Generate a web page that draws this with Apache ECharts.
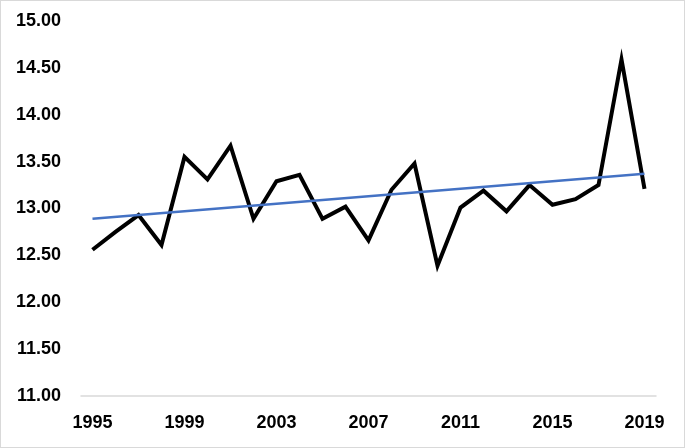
<!DOCTYPE html>
<html>
<head>
<meta charset="utf-8">
<script src="https://cdn.jsdelivr.net/npm/echarts@6/dist/echarts.min.js"></script>
<style>
  html, body { margin: 0; padding: 0; background: #fff; }
  #chart { width: 685px; height: 448px; box-sizing: border-box; border: 1px solid #d9d9d9; }
</style>
</head>
<body>
<div id="chart"></div>
<script>
// years along the x axis
const years = [];
for (let y = 1995; y <= 2019; y++) years.push(String(y));

// yearly values
const values = [12.56, 12.75, 12.93, 12.61, 13.55, 13.31, 13.67, 12.89, 13.29, 13.36,
                12.89, 13.02, 12.66, 13.20, 13.48, 12.39, 13.01, 13.19, 12.97, 13.25,
                13.04, 13.10, 13.25, 14.59, 13.21];

// linear trend, only the two ends are drawn, the rest is joined
const trendStart = 12.89;
const trendEnd = 13.37;
const trend = years.map((y, i) => i === 0 ? trendStart : (i === years.length - 1 ? trendEnd : '-'));

const labelFont = { fontFamily: 'Liberation Sans', fontWeight: 'bold', fontSize: 18, color: '#000' };

const chart = echarts.init(document.getElementById('chart'));
chart.setOption({
    animation: false,
    grid: { left: 80, right: 28, top: 20, bottom: 51 },
    xAxis: {
        type: 'category',
        data: years,
        boundaryGap: true,
        axisLine: { lineStyle: { color: '#d9d9d9', width: 1.5 } },
        axisTick: { show: false },
        axisLabel: Object.assign({ interval: 3, margin: 18 }, labelFont)
    },
    yAxis: {
        type: 'value',
        min: 11,
        max: 15,
        interval: 0.5,
        splitLine: { show: false },
        axisLine: { show: false },
        axisTick: { show: false },
        axisLabel: Object.assign({ margin: 20, formatter: v => v.toFixed(2) }, labelFont)
    },
    series: [
        {
            type: 'line',
            data: values,
            symbol: 'none',
            lineStyle: { color: '#000', width: 4, join: 'miter' }
        },
        {
            type: 'line',
            data: trend,
            connectNulls: true,
            symbol: 'none',
            lineStyle: { color: '#4472C4', width: 2.5 }
        }
    ]
});
</script>
</body>
</html>
